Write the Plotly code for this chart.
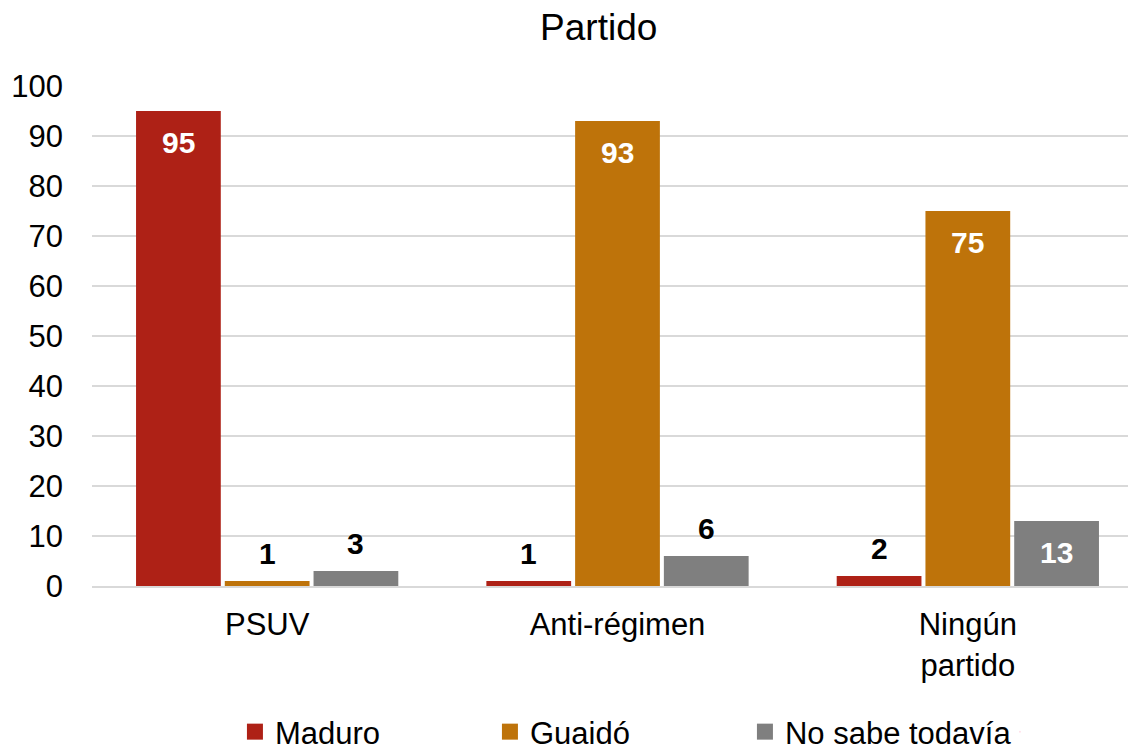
import plotly.graph_objects as go

# ---- data ----
categories = ["PSUV", "Anti-régimen", "Ningún<br>partido"]
maduro = [95, 1, 2]
guaido = [1, 93, 75]
no_sabe = [3, 6, 13]

COLOR_MADURO = "#AE2116"
COLOR_GUAIDO = "#BE730A"
COLOR_NOSABE = "#7F7F7F"
FONT = "Liberation Sans, Arial, sans-serif"

W, H = 1136, 752
M_L, M_R, M_T, M_B = 84, 1, 78, 174
BARGAP = 0.24
LABEL_MIN = 10  # values below this get their label above the bar

series = [
    ("Maduro", maduro, COLOR_MADURO),
    ("Guaidó", guaido, COLOR_GUAIDO),
    ("No sabe todavía", no_sabe, COLOR_NOSABE),
]

fig = go.Figure()
for name, vals, color in series:
    fig.add_trace(go.Bar(
        x=categories, y=vals, name=name,
        marker=dict(color=color, line=dict(width=0)),
        showlegend=False,
    ))

# value labels: white inside tall bars, black above short ones
plot_w = W - M_L - M_R
slot = plot_w / len(categories) * (1 - BARGAP) / len(series)
for i, (name, vals, color) in enumerate(series):
    for cat, v in zip(categories, vals):
        inside = v >= LABEL_MIN
        fig.add_annotation(
            x=cat, y=v, text=f"<b>{v}</b>", showarrow=False,
            xshift=(i - 1) * slot, yshift=-31 if inside else 28,
            font=dict(family=FONT, size=30, color="white" if inside else "black"),
        )

# legend entries with bigger square swatches
for name, vals, color in series:
    fig.add_trace(go.Scatter(
        x=[None], y=[None], name=name, mode="markers",
        marker=dict(symbol="square", size=17, color=color),
    ))
# blank spacer entry so the last label is not clipped
fig.add_trace(go.Scatter(x=[None], y=[None], name=" ", mode="markers",
                         marker=dict(size=1, opacity=0)))

fig.update_layout(
    width=W, height=H,
    paper_bgcolor="white", plot_bgcolor="white",
    margin=dict(l=M_L, r=M_R, t=M_T, b=M_B, autoexpand=False),
    title=dict(text="Partido", x=0.520, xanchor="center", y=1 - 19 / H, yref="container",
               yanchor="middle", font=dict(family=FONT, size=37, color="black")),
    barmode="group",
    bargap=BARGAP, bargroupgap=0.045,
    font=dict(family=FONT, size=30, color="black"),
    legend=dict(orientation="h", x=0.136, xanchor="left", y=-0.292, yanchor="middle",
                entrywidth=210, entrywidthmode="pixels",
                font=dict(family=FONT, size=31, color="black"),
                itemwidth=30),
    xaxis=dict(showline=True, linecolor="#D9D9D9", linewidth=2,
               tickfont=dict(family=FONT, size=31, color="black"), ticks="",
               ticklabelstandoff=10),
    yaxis=dict(range=[0, 100], dtick=10, showgrid=True, gridcolor="#D9D9D9", gridwidth=2,
               zeroline=False, tickfont=dict(family=FONT, size=31, color="black"),
               ticklabelstandoff=28),
)

fig.write_html("out.html")
